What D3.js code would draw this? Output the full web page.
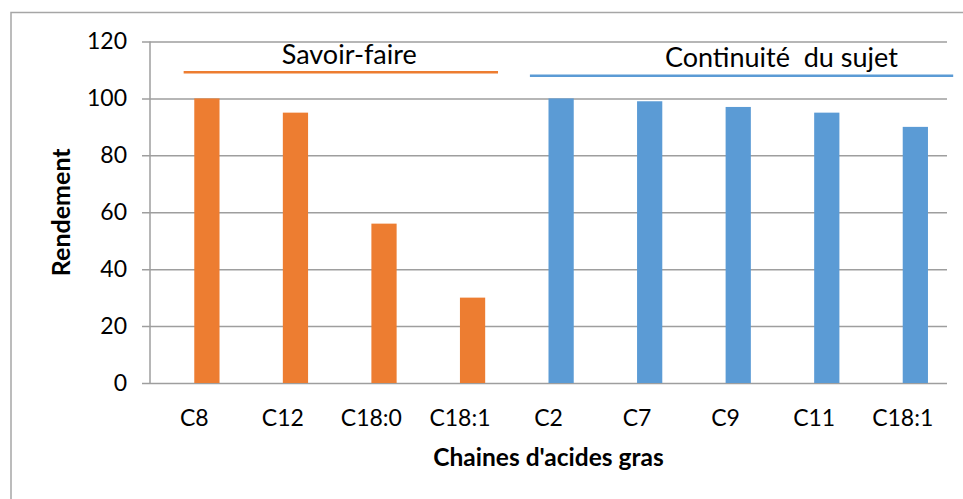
<!DOCTYPE html>
<html>
<head>
<meta charset="utf-8">
<script src="https://cdn.jsdelivr.net/npm/d3@7/dist/d3.min.js"></script>
<style>
  body { margin: 0; background: #fff; }
  svg text { font-family: Lato, "Open Sans", sans-serif; fill: #000; }
</style>
</head>
<body>
<svg id="chart" width="963" height="499"></svg>
<script>
// Fatty-acid chains on the x axis, yield (Rendement) per chain
const categories = ["C8", "C12", "C18:0", "C18:1", "C2", "C7", "C9", "C11", "C18:1"];
const savoirFaire = [100, 95, 56, 30, null, null, null, null, null];
const continuite = [null, null, null, null, 100, 99, 97, 95, 90];
const yTicks = [0, 20, 40, 60, 80, 100, 120];
const seriesNames = ["Savoir-faire", "Continuité  du sujet"];
const seriesColors = ["#ED7D31", "#5B9BD5"];
const xTitle = "Chaines d'acides gras";
const yTitle = "Rendement";

const svg = d3.select("#chart");
const W = 963, H = 499;
const plotLeft = 150, plotRight = 947, plotTop = 41.5, plotBottom = 383;

// outer chart frame
svg.append("rect")
  .attr("x", 11).attr("y", 12.5)
  .attr("width", W + 20).attr("height", H + 20)
  .attr("fill", "none").attr("stroke", "#a6a6a6").attr("stroke-width", 1.5);

const x = d3.scaleBand().domain(d3.range(categories.length)).range([plotLeft, plotRight]);
const y = d3.scaleLinear().domain([0, 120]).range([plotBottom, plotTop]);
const step = x.step();

// horizontal gridlines with short ticks on the left
const yAxis = d3.axisLeft(y).tickValues(yTicks).tickSize(-(plotRight - plotLeft)).tickSizeOuter(0).tickPadding(23);
const gy = svg.append("g").attr("transform", `translate(${plotLeft},0)`).call(yAxis);
gy.select(".domain").remove();
gy.selectAll(".tick line")
  .attr("x1", -8)
  .attr("stroke", "#9e9e9e").attr("stroke-width", 1.5);
gy.selectAll(".tick text")
  .attr("font-size", 23).attr("fill", "#000");
svg.append("line")
  .attr("x1", plotLeft).attr("x2", plotLeft).attr("y1", plotTop).attr("y2", plotBottom)
  .attr("stroke", "#9e9e9e").attr("stroke-width", 1.5);

// category labels
const xAxis = d3.axisBottom(x).tickFormat(i => categories[i]).tickSize(0).tickPadding(27);
const gx = svg.append("g").attr("transform", `translate(0,${plotBottom})`).call(xAxis);
gx.select(".domain").remove();
gx.selectAll(".tick text").attr("font-size", 23).attr("fill", "#000");

// bars: each sits just right of its category centre
const barW = step * 0.285;
[savoirFaire, continuite].forEach((vals, s) => {
  svg.append("g").selectAll("rect")
    .data(vals.map((v, i) => ({ v, i })).filter(d => d.v != null))
    .join("rect")
    .attr("x", d => x(d.i) + step / 2)
    .attr("y", d => y(d.v))
    .attr("width", barW)
    .attr("height", d => y(0) - y(d.v))
    .attr("fill", seriesColors[s]);
});

// group headers with coloured rules
const xi = d3.scaleLinear().domain([0, categories.length]).range([plotLeft, plotRight]);
const groups = [
  { name: seriesNames[0], color: seriesColors[0], from: 0.38, to: 3.93, rule: 109.2, label: 112, mid: 2.25 },
  { name: seriesNames[1], color: seriesColors[1], from: 4.29, to: 9.07, rule: 108.0, label: 111, mid: 7.13 }
];
groups.forEach(g => {
  svg.append("line")
    .attr("x1", xi(g.from)).attr("x2", xi(g.to))
    .attr("y1", y(g.rule)).attr("y2", y(g.rule))
    .attr("stroke", g.color).attr("stroke-width", 2.5);
  svg.append("text")
    .attr("x", xi(g.mid)).attr("y", y(g.label))
    .attr("text-anchor", "middle")
    .attr("font-size", 27)
    .style("white-space", "pre")
    .text(g.name);
});

// axis titles
svg.append("text")
  .attr("x", (plotLeft + plotRight) / 2).attr("y", 466)
  .attr("text-anchor", "middle")
  .attr("font-size", 24.5).attr("font-weight", "bold")
  .text(xTitle);
svg.append("text")
  .attr("transform", `translate(70,${(plotTop + plotBottom) / 2}) rotate(-90)`)
  .attr("text-anchor", "middle")
  .attr("font-size", 25).attr("font-weight", "bold")
  .text(yTitle);
</script>
</body>
</html>
